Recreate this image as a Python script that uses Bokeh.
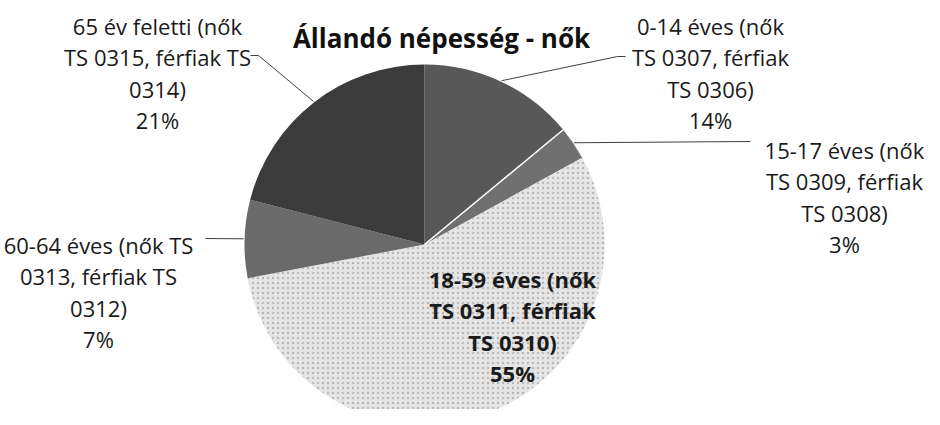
import math
from bokeh.plotting import figure
from bokeh.models import Range1d, ColumnDataSource
from bokeh.core.properties import value
from bokeh.embed import file_html
from bokeh.resources import INLINE

# ---- data ----
title = "Állandó népesség - nők"
categories = ["0-14 éves", "15-17 éves", "18-59 éves", "60-64 éves", "65 év feletti"]
values = [14, 3, 55, 7, 21]
label_lines = [
    ["0-14 éves (nők", "TS 0307, férfiak", "TS 0306)"],
    ["15-17 éves (nők", "TS 0309, férfiak", "TS 0308)"],
    ["18-59 éves (nők", "TS 0311, férfiak", "TS 0310)"],
    ["60-64 éves (nők TS", "0313, férfiak TS", "0312)"],
    ["65 év feletti (nők", "TS 0315, férfiak TS", "0314)"],
]
colors = ["#585858", "#707070", "#e6e6e6", "#6a6a6a", "#3b3b3b"]
hatches = [" ", " ", "dot", " ", " "]

# ---- layout ----
W, H = 924, 409
FONT = "Open Sans"
def px(X): return X - 8
def py(Y): return 417 - Y

CX, CY, R = 432, 252, 180
label_anchor = [(718, 33), (852, 157), (520, 286), (106, 252), (165, 33)]
label_bold = [False, False, True, False, False]
LINE_H = 31.5
leader_tail = [
    [(625, 64), (633, 64)],
    [(758, 149)],
    None,
    [(213, 246)],
    [(266, 63), (258, 63)],
]

p = figure(width=W, height=H, output_backend="svg", toolbar_location=None,
           x_range=Range1d(0, W), y_range=Range1d(0, H), min_border=0)
p.axis.visible = False
p.grid.visible = False
p.outline_line_color = None

total = float(sum(values))
starts, ends, mids = [], [], []
c = 0.0
for v in values:
    f0 = c / total
    c += v
    f1 = c / total
    starts.append(math.pi / 2 - 2 * math.pi * f0)
    ends.append(math.pi / 2 - 2 * math.pi * f1)
    mids.append(math.pi / 2 - 2 * math.pi * (f0 + f1) / 2)

src = ColumnDataSource(dict(cat=categories, val=values, start=starts, end=ends,
                            color=colors, hatch=hatches))
p.wedge(x=px(CX), y=py(CY), radius=R, start_angle="start", end_angle="end",
        direction="clock", fill_color="color", line_color=None,
        hatch_pattern="hatch", hatch_color="#9a9a9a", hatch_scale=5, hatch_alpha=0.6,
        source=src)

# separator between first two slices
p.line(x=[px(CX), px(CX) + R * math.cos(ends[0])], y=[py(CY), py(CY) + R * math.sin(ends[0])],
       line_color="white", line_width=1.5)

# leader lines
for i, tail in enumerate(leader_tail):
    if tail is None:
        continue
    ex = px(CX) + (R + 1) * math.cos(mids[i])
    ey = py(CY) + (R + 1) * math.sin(mids[i])
    xs = [ex] + [px(t[0]) for t in tail]
    ys = [ey] + [py(t[1]) for t in tail]
    p.line(x=xs, y=ys, line_color="#404040", line_width=1)

# labels
for i, lines in enumerate(label_lines):
    ax, ay = label_anchor[i]
    all_lines = lines + [f"{values[i]}%"]
    xs = [px(ax)] * len(all_lines)
    ys = [py(ay + k * LINE_H) for k in range(len(all_lines))]
    p.text(x=xs, y=ys, text=all_lines, text_font=value(FONT), text_font_size="22px",
           text_align="center", text_baseline="alphabetic",
           text_color="#1a1a1a", text_font_style="bold" if label_bold[i] else "normal")

p.text(x=[px(449)], y=[py(45)], text=[title], text_font=value(FONT), text_font_size="26px",
       text_font_style="bold", text_align="center", text_baseline="alphabetic",
       text_color="#111111")

open("out.html", "w").write(file_html(p, INLINE))
